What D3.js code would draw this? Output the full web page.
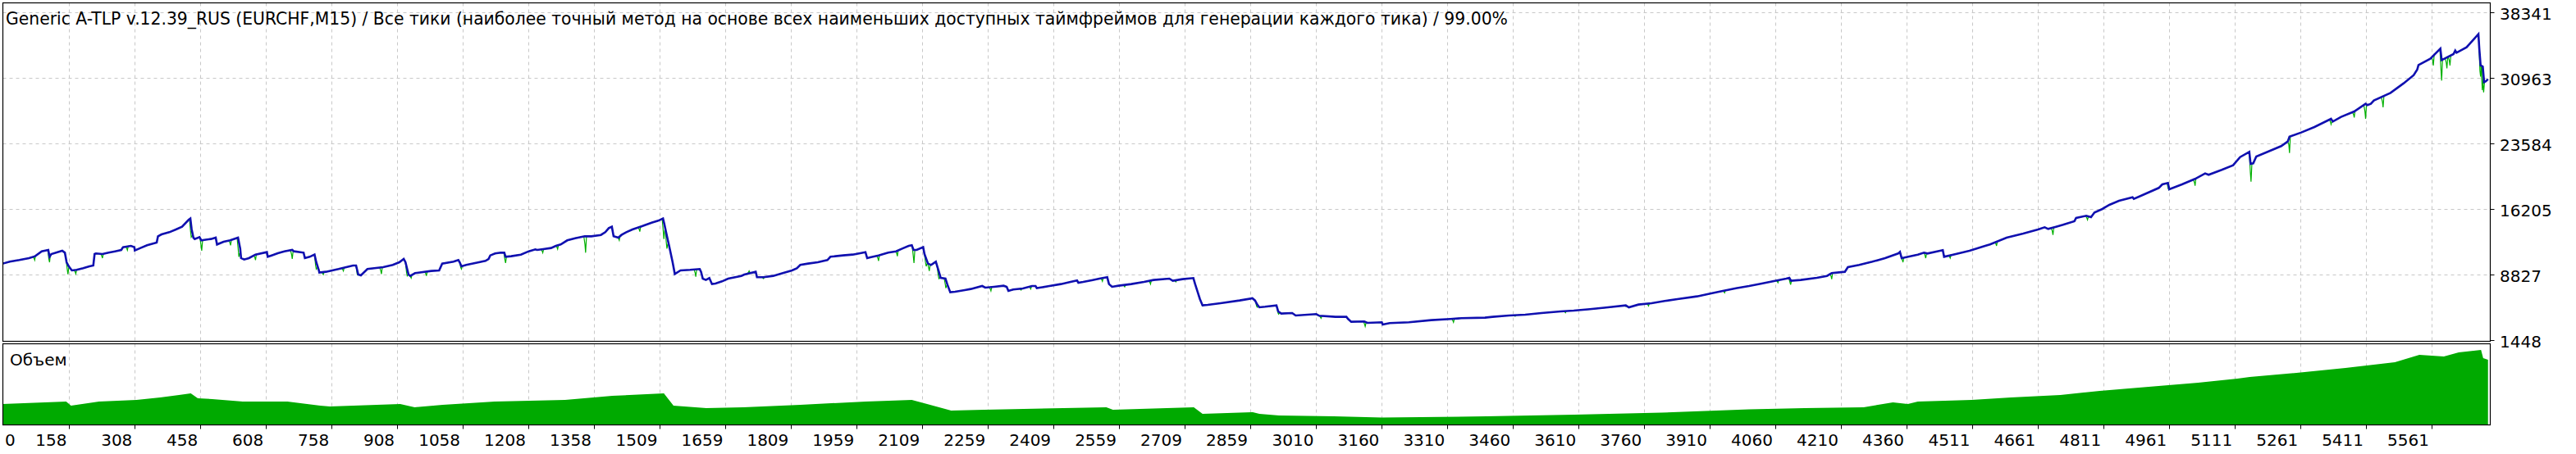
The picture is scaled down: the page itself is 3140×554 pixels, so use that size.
<!DOCTYPE html>
<html><head><meta charset="utf-8">
<script src="https://cdn.jsdelivr.net/npm/d3@7"></script>
<style>html,body{margin:0;padding:0;background:#fff;} svg{display:block;}</style>
</head><body><svg id="c" width="3140" height="554"></svg>
<script>
const titleText = "Generic A-TLP v.12.39_RUS (EURCHF,M15) / Все тики (наиболее точный метод на основе всех наименьших доступных таймфреймов для генерации каждого тика) / 99.00%";
const volumeLabel = "Объем";
const yTickValues = [1448, 8827, 16205, 23584, 30963, 38341];
const xTickValues = [0,158,308,458,608,758,908,1058,1208,1358,1509,1659,1809,1959,2109,2259,2409,2559,2709,2859,3010,3160,3310,3460,3610,3760,3910,4060,4210,4360,4511,4661,4811,4961,5111,5261,5411,5561];

// balance: [trade #, balance]
const balance = [
[0,10000],[22,10291],[44,10475],[66,10690],[80,10906],[95,11459],[110,11613],[113,10844],[117,11152],[131,11367],[142,11520],[148,11305],[152,10229],[157,9768],[164,9307],[175,9369],[190,9553],[204,9768],[213,9860],[216,11152],[219,11213],[234,11152],[248,11305],[263,11459],[277,11613],[281,11920],[299,12074],[307,11920],[308,11551],[321,11828],[336,12135],[358,12443],[361,13150],[369,13365],[387,13611],[402,13918],[416,14226],[431,14994],[435,15148],[438,13918],[442,12996],[445,12842],[456,13057],[460,12689],[467,12750],[482,12842],[493,12996],[496,12228],[511,12535],[526,12689],[544,12996],[549,11766],[551,10690],[558,10537],[569,10690],[584,11090],[610,11367],[612,10844],[621,10998],[635,11244],[650,11459],[668,11613],[672,11459],[694,11305],[697,10690],[708,10844],[719,11090],[723,10229],[729,9307],[730,9061],[745,9154],[774,9461],[807,9860],[814,9860],[819,8846],[825,8754],[840,9461],[876,9676],[898,9922],[913,10229],[923,10598],[927,10229],[934,8846],[938,8692],[949,8999],[986,9246],[1004,9307],[1011,10076],[1037,10291],[1048,10475],[1051,10229],[1055,9768],[1066,9922],[1095,10229],[1110,10383],[1117,10598],[1121,10998],[1132,11213],[1145,11305],
[1153,11305],[1156,10844],[1169,10906],[1191,11090],[1209,11459],[1224,11674],[1228,11613],[1242,11705],[1260,11828],[1271,12074],[1282,12228],[1297,12689],[1315,12935],[1337,13150],[1352,13150],[1374,13303],[1384,13611],[1392,14072],[1399,14226],[1403,13150],[1414,12996],[1421,13303],[1432,13611],[1446,13918],[1468,14287],[1490,14687],[1505,14902],[1516,15148],[1519,14533],[1523,13611],[1530,12074],[1538,10229],[1543,8907],[1556,9307],[1578,9369],[1600,9461],[1603,9154],[1607,8385],[1614,8231],[1622,8447],[1628,7770],[1636,7832],[1651,8078],[1665,8385],[1695,8692],[1702,8846],[1728,9154],[1731,8539],[1746,8539],[1768,8692],[1790,8999],[1811,9307],[1822,9553],[1830,9922],[1848,10076],[1870,10229],[1892,10475],[1899,10844],[1928,10998],[1950,11090],[1979,11367],[1983,10690],[1990,10783],[2009,10998],[2031,11305],[2049,11459],[2063,11766],[2078,12074],[2085,12135],[2089,11613],[2096,11613],[2111,11920],[2114,11152],[2122,10076],[2129,9922],[2140,10291],[2146,9307],[2151,8477],[2162,8385],[2166,7770],[2173,6848],[2184,6910],[2206,7094],[2220,7217],[2246,7555],[2253,7371],
[2273,7463],[2295,7586],[2302,7463],[2306,7002],[2317,7156],[2339,7278],[2360,7555],[2368,7555],[2371,7309],[2397,7524],[2426,7770],[2448,8016],[2463,8170],[2466,7924],[2477,8016],[2499,8231],[2514,8385],[2532,8539],[2536,7770],[2543,7463],[2558,7586],[2587,7770],[2616,8016],[2638,8231],[2674,8385],[2682,8139],[2704,8323],[2729,8447],[2733,7770],[2739,6848],[2744,6079],[2750,5372],[2762,5434],[2791,5619],[2835,5926],[2864,6172],[2870,5926],[2875,5465],[2880,5157],[2893,5219],[2919,5372],[2923,4696],[2930,4450],[2955,4512],[2963,4235],[3010,4389],[3017,4204],[3054,4081],[3079,4081],[3083,3835],[3090,3528],[3120,3559],[3127,3405],[3160,3467],[3162,3221],[3178,3374],[3222,3467],[3273,3713],[3317,3835],[3342,3928],[3396,3989],
[3413,4081],[3451,4235],[3488,4327],[3525,4512],[3569,4696],[3599,4788],[3636,4942],[3673,5126],[3718,5372],[3725,5157],[3747,5465],[3777,5618],[3807,5864],[3836,6079],[3881,6387],[3911,6694],[3940,7002],[3970,7309],[4000,7555],[4029,7831],[4059,8139],[4085,8385],[4092,8477],[4096,8139],[4118,8231],[4155,8477],[4178,8692],[4189,8999],[4219,9153],[4226,9676],[4252,9922],[4282,10291],[4311,10690],[4341,11213],[4345,11397],[4349,10690],[4386,11090],[4400,11305],[4408,11213],[4443,11582],[4446,10844],[4467,11090],[4504,11520],[4540,12073],
[4551,12230],[4589,12998],[4627,13459],[4661,13920],[4676,14166],[4684,13982],[4702,14228],[4718,14443],[4744,14843],[4748,15211],[4771,15457],[4782,15303],[4790,15826],[4808,16226],[4824,16687],[4846,17148],[4877,17548],[4880,17363],[4899,17763],[4937,18593],[4945,18993],[4958,19146],[4961,18439],[4990,18993],[5020,19607],[5043,20222],[5051,20068],[5081,20622],[5107,21144],[5123,22066],[5144,22651],[5147,21298],[5153,21359],[5160,22128],[5187,22681],[5217,23296],[5232,23818],[5236,24372],[5263,24833],[5293,25448],[5331,26370],[5335,26062],[5354,26585],[5384,27200],[5410,28060],[5414,27907],[5422,28060],[5429,28429],[5467,29290],[5497,30366],[5520,31288],[5528,31903],[5531,32426],[5558,33133],[5581,34270],[5584,32979],[5611,33655],[5615,34055],[5618,33809],[5641,34424],[5668,35900],[5670,34300],[5673,32400],[5678,32250],[5681,30500],[5685,30600],[5690,30830]
];

// equity dips below balance: [trade #, equity]
const equityDips = [
[79,10475],[113,10229],[155,8877],[173,8938],[234,10690],[291,11582],[437,13057],[461,11520],[527,12135],[546,10844],[584,10475],[668,10598],[723,9461],[739,8846],[785,9246],[818,8785],[872,8907],[931,8692],[940,8446],[975,8692],[1055,9461],[1156,10137],[1241,11305],[1275,11705],[1339,11305],[1416,12689],[1463,13672],[1518,12842],[1525,11766],[1591,8600],[1713,9246],[1746,8385],[2009,10383],[2052,10906],[2090,10137],[2118,9768],[2125,9246],[2147,8385],[2163,7309],[2266,7002],[2335,7094],[2357,7217],[2521,8078],[2572,7463],[2631,7770],[2689,8016],[2751,5311],[2875,5157],[2924,4389],[3021,3928],[3122,3006],[3324,3467],[3465,4143],[3580,4542],[3718,5249],[3770,5311],[3944,6786],[4066,7923],[4095,7708],[4189,8323],[4352,10229],[4404,10690],[4460,10690],[4566,12077],[4695,13305],[4774,14996],[4960,18378],[5020,18839],[5148,19300],[5236,22527],[5331,25755],[5384,26524],[5410,26370],[5450,27661],[5565,32364],[5584,30673],[5596,32057],[5603,32364],[5673,31134],[5677,29597],[5680,29351]
];

// volume (lots): [trade #, volume]
const volume = [
[0,0.25],[151,0.28],[162,0.23],[226,0.28],[312,0.30],[366,0.33],[409,0.36],[436,0.38],[452,0.32],[485,0.31],[555,0.28],[657,0.28],[732,0.23],[754,0.22],[915,0.25],[948,0.21],[1012,0.24],[1131,0.28],[1292,0.30],[1357,0.33],[1400,0.35],[1518,0.38],[1540,0.23],[1615,0.20],[1700,0.21],[1830,0.24],[1980,0.28],[2085,0.30],[2120,0.25],[2175,0.17],[2250,0.18],[2530,0.21],[2545,0.18],[2730,0.21],[2750,0.13],[2865,0.15],[2880,0.13],[2925,0.11],[3050,0.10],[3160,0.085],[3400,0.10],[3600,0.12],[3800,0.145],[4000,0.185],[4127,0.20],[4262,0.21],[4329,0.27],[4363,0.25],[4386,0.28],[4509,0.30],[4599,0.33],[4712,0.36],[4802,0.41],[4914,0.46],[5027,0.51],[5117,0.56],[5145,0.58],[5252,0.63],[5364,0.69],[5477,0.76],[5533,0.85],[5589,0.83],[5623,0.88],[5674,0.91],[5679,0.81],[5690,0.79]
];

const svg = d3.select("#c");
const FONT = "DejaVu Sans";
const L = 3.5, R = 3035.5, mainTop = 3.5, mainBottom = 416.5, volTop = 419.5, volBottom = 518.5;

const x = d3.scaleLinear().domain([158, 5561]).range([84.4, 2964]);
const y = d3.scaleLinear().domain([1448, 38341]).range([415.2, 15.2]);
const yv = d3.scaleLinear().domain([0, 1]).range([518, 418]);
const crisp = v => Math.round(v) + 0.5;

const defs = svg.append("defs");
defs.append("clipPath").attr("id","clipMain").append("rect").attr("x",L).attr("y",mainTop).attr("width",R-L).attr("height",mainBottom-mainTop);
defs.append("clipPath").attr("id","clipVol").append("rect").attr("x",L).attr("y",volTop).attr("width",R-L).attr("height",volBottom-volTop);

// grid
const grid = svg.append("g").attr("stroke","#c8c8c8").attr("stroke-width",1).attr("stroke-dasharray","4,4");
yTickValues.filter(v => v !== 1448).forEach(v => {
  grid.append("line").attr("x1",L).attr("x2",R).attr("y1",crisp(y(v))).attr("y2",crisp(y(v)));
});
xTickValues.filter(t => t > 0).forEach(t => {
  const xx = crisp(x(t));
  grid.append("line").attr("x1",xx).attr("x2",xx).attr("y1",mainTop).attr("y2",mainBottom);
  grid.append("line").attr("x1",xx).attr("x2",xx).attr("y1",volTop).attr("y2",volBottom);
});

// volume
svg.append("path").attr("clip-path","url(#clipVol)")
  .attr("d", d3.area().x(d => x(d[0])).y0(yv(0)).y1(d => yv(d[1])).curve(d3.curveLinear)(volume))
  .attr("fill","#00aa00");

// equity
const bis = d3.bisector(d => d[0]).right;
function balAt(t){
  const i = Math.min(Math.max(bis(balance, t), 1), balance.length - 1);
  const a = balance[i-1], b = balance[i];
  if (t >= b[0]) return b[1];
  return a[1] + (b[1]-a[1])*(t-a[0])/(b[0]-a[0]);
}
const gEq = svg.append("g").attr("clip-path","url(#clipMain)").attr("fill","none").attr("stroke","#00b000").attr("stroke-width",1.2);
gEq.append("path").attr("d", d3.line().x(d => x(d[0])).y(d => y(d[1]))(balance));
equityDips.forEach(d => {
  const pts = [[d[0]-4, balAt(d[0]-4)], [d[0]-1.5, (balAt(d[0]) + d[1]) / 2], [d[0], d[1]], [d[0]+2, balAt(d[0]+4)]];
  gEq.append("path").attr("d", d3.line().x(p => x(p[0])).y(p => y(p[1]))(pts));
});

// balance
svg.append("path").attr("clip-path","url(#clipMain)")
  .attr("d", d3.line().x(d => x(d[0])).y(d => y(d[1]))(balance))
  .attr("fill","none").attr("stroke","#1010b0").attr("stroke-width",2.6).attr("stroke-linejoin","miter");

// frames
const fr = svg.append("g").attr("fill","none").attr("stroke","#000").attr("stroke-width",1.2);
fr.append("rect").attr("x",L).attr("y",mainTop).attr("width",R-L).attr("height",mainBottom-mainTop);
fr.append("rect").attr("x",L).attr("y",volTop).attr("width",R-L).attr("height",volBottom-volTop);

// y axis
const ya = svg.append("g");
yTickValues.forEach(v => {
  const yy = crisp(y(v));
  ya.append("line").attr("x1",R).attr("x2",R+5).attr("y1",yy).attr("y2",yy).attr("stroke","#000");
  ya.append("text").attr("x",3047).attr("y",y(v)+9).attr("font-family",FONT).attr("font-size",20).attr("fill","#000").text(String(v));
});

// x axis
const xa = svg.append("g");
xTickValues.forEach(t => {
  const xx = crisp(x(t));
  if (t > 0) xa.append("line").attr("x1",xx).attr("x2",xx).attr("y1",volBottom).attr("y2",volBottom+5).attr("stroke","#000");
  const tx = xa.append("text").attr("y",544).attr("font-family",FONT).attr("font-size",20).attr("fill","#000").text(String(t));
  const w = tx.node().getComputedTextLength();
  let right = x(t) - 3;
  if (right - w < 6) right = 6 + w;
  tx.attr("x", right).attr("text-anchor","end");
});

// title
const title = svg.append("text").attr("x",7).attr("y",30).attr("font-family",FONT).attr("font-size",20).attr("fill","#000").text(titleText);
const tw = title.node().getComputedTextLength();
title.attr("font-size", 20 * 1832 / tw);

// volume label
svg.append("text").attr("x",12).attr("y",446).attr("font-family",FONT).attr("font-size",20).attr("fill","#000").text(volumeLabel);
</script>
</body></html>
